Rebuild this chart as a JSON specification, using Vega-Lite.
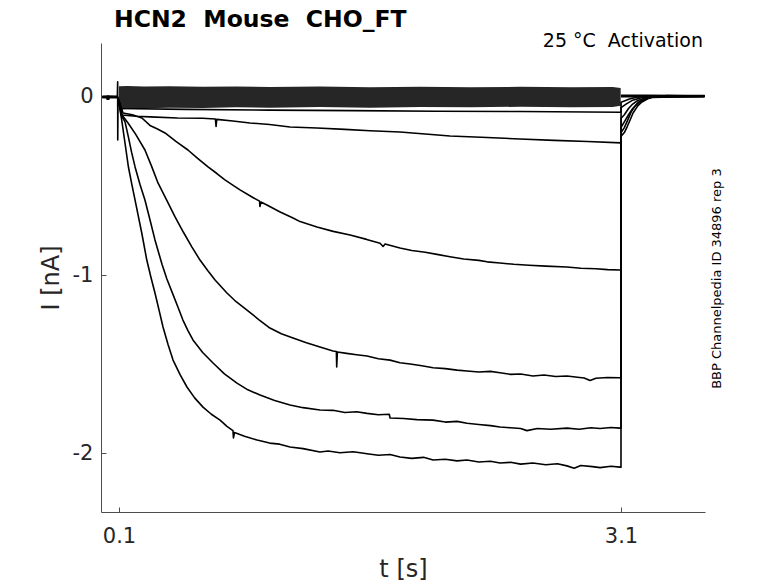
{
  "$schema": "https://vega.github.io/schema/vega-lite/v6.json",
  "description": "HCN2 Mouse CHO_FT activation current traces",
  "width": 604,
  "height": 469,
  "autosize": {"type": "none"},
  "padding": {"left": 101, "top": 43, "right": 73, "bottom": 71},
  "background": "white",
  "datasets": {
    "band": [
      {"t": 0.1, "hi": 0.06, "lo": -0.07},
      {"t": 0.15, "hi": 0.062, "lo": -0.068},
      {"t": 0.25, "hi": 0.058, "lo": -0.064},
      {"t": 0.4, "hi": 0.06, "lo": -0.06},
      {"t": 0.6, "hi": 0.057, "lo": -0.062},
      {"t": 0.8, "hi": 0.059, "lo": -0.058},
      {"t": 1.0, "hi": 0.056, "lo": -0.06},
      {"t": 1.3, "hi": 0.058, "lo": -0.057},
      {"t": 1.6, "hi": 0.055, "lo": -0.06},
      {"t": 1.9, "hi": 0.057, "lo": -0.056},
      {"t": 2.2, "hi": 0.055, "lo": -0.058},
      {"t": 2.5, "hi": 0.057, "lo": -0.055},
      {"t": 2.8, "hi": 0.055, "lo": -0.058},
      {"t": 3.05, "hi": 0.056, "lo": -0.056},
      {"t": 3.098, "hi": 0.05, "lo": -0.05}
    ],
    "flat": [
      {"s": "pre", "t": 0, "v": 0},
      {"s": "pre", "t": 0.03, "v": 0.001},
      {"s": "pre", "t": 0.034, "v": -0.015},
      {"s": "pre", "t": 0.038, "v": 0.001},
      {"s": "pre", "t": 0.09, "v": 0},
      {"s": "post", "t": 3.1, "v": 0.006},
      {"s": "post", "t": 3.25, "v": 0.006},
      {"s": "post", "t": 3.45, "v": 0.004},
      {"s": "post", "t": 3.6, "v": 0.004}
    ],
    "traces": [
      {"s": "cap", "t": 0.09, "v": 0},
      {"s": "cap", "t": 0.092, "v": 0.085},
      {"s": "cap", "t": 0.0925, "v": -0.242},
      {"s": "cap", "t": 0.094, "v": -0.05},
      {"s": "cap", "t": 0.1, "v": -0.03},

      {"s": "1", "t": 0, "v": 0},
      {"s": "1", "t": 0.09, "v": 0},
      {"s": "1", "t": 0.1, "v": -0.02},
      {"s": "1", "t": 0.105, "v": -0.065},
      {"s": "1", "t": 0.5, "v": -0.07},
      {"s": "1", "t": 1.0, "v": -0.074},
      {"s": "1", "t": 1.5, "v": -0.077},
      {"s": "1", "t": 2.0, "v": -0.08},
      {"s": "1", "t": 2.5, "v": -0.082},
      {"s": "1", "t": 3.1, "v": -0.086},
      {"s": "1", "t": 3.1005, "v": -0.03},
      {"s": "1", "t": 3.15, "v": -0.012},
      {"s": "1", "t": 3.2, "v": 0.0},
      {"s": "1", "t": 3.6, "v": 0.004},

      {"s": "2", "t": 0, "v": 0},
      {"s": "2", "t": 0.09, "v": 0},
      {"s": "2", "t": 0.1, "v": -0.02},
      {"s": "2", "t": 0.118, "v": -0.101},
      {"s": "2", "t": 0.2, "v": -0.108},
      {"s": "2", "t": 0.285, "v": -0.112},
      {"s": "2", "t": 0.45, "v": -0.118},
      {"s": "2", "t": 0.6, "v": -0.12},
      {"s": "2", "t": 0.676, "v": -0.124},
      {"s": "2", "t": 0.68, "v": -0.165},
      {"s": "2", "t": 0.684, "v": -0.126},
      {"s": "2", "t": 0.78, "v": -0.135},
      {"s": "2", "t": 0.883, "v": -0.146},
      {"s": "2", "t": 1.0, "v": -0.155},
      {"s": "2", "t": 1.122, "v": -0.169},
      {"s": "2", "t": 1.283, "v": -0.174},
      {"s": "2", "t": 1.45, "v": -0.182},
      {"s": "2", "t": 1.6, "v": -0.19},
      {"s": "2", "t": 1.779, "v": -0.197},
      {"s": "2", "t": 1.93, "v": -0.208},
      {"s": "2", "t": 2.078, "v": -0.219},
      {"s": "2", "t": 2.3, "v": -0.228},
      {"s": "2", "t": 2.496, "v": -0.236},
      {"s": "2", "t": 2.7, "v": -0.244},
      {"s": "2", "t": 2.9, "v": -0.25},
      {"s": "2", "t": 3.1, "v": -0.258},
      {"s": "2", "t": 3.1005, "v": -0.06},
      {"s": "2", "t": 3.13, "v": -0.04},
      {"s": "2", "t": 3.17, "v": -0.018},
      {"s": "2", "t": 3.22, "v": -0.004},
      {"s": "2", "t": 3.6, "v": 0.004},

      {"s": "3", "t": 0, "v": 0},
      {"s": "3", "t": 0.09, "v": 0},
      {"s": "3", "t": 0.1, "v": -0.02},
      {"s": "3", "t": 0.124, "v": -0.09},
      {"s": "3", "t": 0.18, "v": -0.1},
      {"s": "3", "t": 0.237, "v": -0.118},
      {"s": "3", "t": 0.285, "v": -0.16},
      {"s": "3", "t": 0.33, "v": -0.18},
      {"s": "3", "t": 0.375, "v": -0.202},
      {"s": "3", "t": 0.44, "v": -0.25},
      {"s": "3", "t": 0.512, "v": -0.298},
      {"s": "3", "t": 0.57, "v": -0.345},
      {"s": "3", "t": 0.632, "v": -0.393},
      {"s": "3", "t": 0.685, "v": -0.43},
      {"s": "3", "t": 0.733, "v": -0.466},
      {"s": "3", "t": 0.78, "v": -0.495},
      {"s": "3", "t": 0.823, "v": -0.522},
      {"s": "3", "t": 0.9, "v": -0.565},
      {"s": "3", "t": 0.94, "v": -0.585},
      {"s": "3", "t": 0.942, "v": -0.615},
      {"s": "3", "t": 0.948, "v": -0.59},
      {"s": "3", "t": 0.984, "v": -0.607},
      {"s": "3", "t": 1.06, "v": -0.645},
      {"s": "3", "t": 1.14, "v": -0.68},
      {"s": "3", "t": 1.182, "v": -0.7},
      {"s": "3", "t": 1.283, "v": -0.73},
      {"s": "3", "t": 1.38, "v": -0.755},
      {"s": "3", "t": 1.481, "v": -0.775},
      {"s": "3", "t": 1.58, "v": -0.8},
      {"s": "3", "t": 1.66, "v": -0.822},
      {"s": "3", "t": 1.678, "v": -0.84},
      {"s": "3", "t": 1.69, "v": -0.826},
      {"s": "3", "t": 1.779, "v": -0.848},
      {"s": "3", "t": 1.85, "v": -0.862},
      {"s": "3", "t": 1.93, "v": -0.872},
      {"s": "3", "t": 2.0, "v": -0.884},
      {"s": "3", "t": 2.078, "v": -0.897},
      {"s": "3", "t": 2.16, "v": -0.91},
      {"s": "3", "t": 2.25, "v": -0.918},
      {"s": "3", "t": 2.3, "v": -0.926},
      {"s": "3", "t": 2.377, "v": -0.933},
      {"s": "3", "t": 2.46, "v": -0.94},
      {"s": "3", "t": 2.55, "v": -0.945},
      {"s": "3", "t": 2.65, "v": -0.95},
      {"s": "3", "t": 2.777, "v": -0.955},
      {"s": "3", "t": 2.86, "v": -0.962},
      {"s": "3", "t": 2.95, "v": -0.965},
      {"s": "3", "t": 3.02, "v": -0.97},
      {"s": "3", "t": 3.094, "v": -0.972},
      {"s": "3", "t": 3.1, "v": -0.972},
      {"s": "3", "t": 3.1005, "v": -0.12},
      {"s": "3", "t": 3.12, "v": -0.1},
      {"s": "3", "t": 3.145, "v": -0.065},
      {"s": "3", "t": 3.17, "v": -0.04},
      {"s": "3", "t": 3.2, "v": -0.02},
      {"s": "3", "t": 3.25, "v": -0.005},
      {"s": "3", "t": 3.3, "v": 0.002},
      {"s": "3", "t": 3.6, "v": 0.004},

      {"s": "4", "t": 0, "v": 0},
      {"s": "4", "t": 0.09, "v": 0},
      {"s": "4", "t": 0.1, "v": -0.03},
      {"s": "4", "t": 0.118, "v": -0.101},
      {"s": "4", "t": 0.154, "v": -0.146},
      {"s": "4", "t": 0.2, "v": -0.21},
      {"s": "4", "t": 0.255, "v": -0.298},
      {"s": "4", "t": 0.295, "v": -0.39},
      {"s": "4", "t": 0.333, "v": -0.483},
      {"s": "4", "t": 0.385, "v": -0.58},
      {"s": "4", "t": 0.435, "v": -0.674},
      {"s": "4", "t": 0.485, "v": -0.76},
      {"s": "4", "t": 0.536, "v": -0.843},
      {"s": "4", "t": 0.584, "v": -0.916},
      {"s": "4", "t": 0.63, "v": -0.975},
      {"s": "4", "t": 0.674, "v": -1.028},
      {"s": "4", "t": 0.745, "v": -1.101},
      {"s": "4", "t": 0.8, "v": -1.15},
      {"s": "4", "t": 0.865, "v": -1.197},
      {"s": "4", "t": 0.935, "v": -1.25},
      {"s": "4", "t": 1.002, "v": -1.298},
      {"s": "4", "t": 1.07, "v": -1.33},
      {"s": "4", "t": 1.14, "v": -1.354},
      {"s": "4", "t": 1.22, "v": -1.38},
      {"s": "4", "t": 1.301, "v": -1.404},
      {"s": "4", "t": 1.379, "v": -1.427},
      {"s": "4", "t": 1.399, "v": -1.43},
      {"s": "4", "t": 1.401, "v": -1.517},
      {"s": "4", "t": 1.405, "v": -1.432},
      {"s": "4", "t": 1.46, "v": -1.44},
      {"s": "4", "t": 1.52, "v": -1.448},
      {"s": "4", "t": 1.582, "v": -1.455},
      {"s": "4", "t": 1.65, "v": -1.47},
      {"s": "4", "t": 1.72, "v": -1.478},
      {"s": "4", "t": 1.779, "v": -1.493},
      {"s": "4", "t": 1.84, "v": -1.5},
      {"s": "4", "t": 1.91, "v": -1.51},
      {"s": "4", "t": 1.977, "v": -1.521},
      {"s": "4", "t": 2.05, "v": -1.526},
      {"s": "4", "t": 2.12, "v": -1.534},
      {"s": "4", "t": 2.18, "v": -1.539},
      {"s": "4", "t": 2.25, "v": -1.545},
      {"s": "4", "t": 2.32, "v": -1.541},
      {"s": "4", "t": 2.377, "v": -1.549},
      {"s": "4", "t": 2.44, "v": -1.558},
      {"s": "4", "t": 2.5, "v": -1.556},
      {"s": "4", "t": 2.574, "v": -1.567},
      {"s": "4", "t": 2.64, "v": -1.562},
      {"s": "4", "t": 2.71, "v": -1.57},
      {"s": "4", "t": 2.777, "v": -1.567},
      {"s": "4", "t": 2.84, "v": -1.574},
      {"s": "4", "t": 2.88, "v": -1.578},
      {"s": "4", "t": 2.915, "v": -1.592},
      {"s": "4", "t": 2.95, "v": -1.58},
      {"s": "4", "t": 3.02, "v": -1.576},
      {"s": "4", "t": 3.094, "v": -1.577},
      {"s": "4", "t": 3.1, "v": -1.578},
      {"s": "4", "t": 3.1005, "v": -0.17},
      {"s": "4", "t": 3.12, "v": -0.14},
      {"s": "4", "t": 3.145, "v": -0.1},
      {"s": "4", "t": 3.17, "v": -0.065},
      {"s": "4", "t": 3.2, "v": -0.035},
      {"s": "4", "t": 3.24, "v": -0.014},
      {"s": "4", "t": 3.28, "v": -0.002},
      {"s": "4", "t": 3.4, "v": 0.006},
      {"s": "4", "t": 3.6, "v": 0.004},

      {"s": "5", "t": 0, "v": 0},
      {"s": "5", "t": 0.09, "v": 0},
      {"s": "5", "t": 0.1, "v": -0.03},
      {"s": "5", "t": 0.112, "v": -0.101},
      {"s": "5", "t": 0.136, "v": -0.14},
      {"s": "5", "t": 0.155, "v": -0.22},
      {"s": "5", "t": 0.175, "v": -0.31},
      {"s": "5", "t": 0.196, "v": -0.393},
      {"s": "5", "t": 0.225, "v": -0.49},
      {"s": "5", "t": 0.255, "v": -0.579},
      {"s": "5", "t": 0.285, "v": -0.69},
      {"s": "5", "t": 0.315, "v": -0.803},
      {"s": "5", "t": 0.357, "v": -0.94},
      {"s": "5", "t": 0.385, "v": -1.02},
      {"s": "5", "t": 0.423, "v": -1.11},
      {"s": "5", "t": 0.452, "v": -1.18},
      {"s": "5", "t": 0.482, "v": -1.253},
      {"s": "5", "t": 0.512, "v": -1.312},
      {"s": "5", "t": 0.542, "v": -1.365},
      {"s": "5", "t": 0.6, "v": -1.435},
      {"s": "5", "t": 0.662, "v": -1.494},
      {"s": "5", "t": 0.73, "v": -1.555},
      {"s": "5", "t": 0.805, "v": -1.607},
      {"s": "5", "t": 0.87, "v": -1.645},
      {"s": "5", "t": 0.943, "v": -1.674},
      {"s": "5", "t": 1.03, "v": -1.705},
      {"s": "5", "t": 1.122, "v": -1.73},
      {"s": "5", "t": 1.2, "v": -1.745},
      {"s": "5", "t": 1.301, "v": -1.758},
      {"s": "5", "t": 1.379, "v": -1.76},
      {"s": "5", "t": 1.45, "v": -1.772},
      {"s": "5", "t": 1.52, "v": -1.768},
      {"s": "5", "t": 1.582, "v": -1.777},
      {"s": "5", "t": 1.65, "v": -1.785},
      {"s": "5", "t": 1.715, "v": -1.782},
      {"s": "5", "t": 1.72, "v": -1.803},
      {"s": "5", "t": 1.8, "v": -1.806},
      {"s": "5", "t": 1.88, "v": -1.812},
      {"s": "5", "t": 1.977, "v": -1.815},
      {"s": "5", "t": 2.05, "v": -1.826},
      {"s": "5", "t": 2.12, "v": -1.822},
      {"s": "5", "t": 2.18, "v": -1.833},
      {"s": "5", "t": 2.25, "v": -1.84},
      {"s": "5", "t": 2.32, "v": -1.846},
      {"s": "5", "t": 2.377, "v": -1.854},
      {"s": "5", "t": 2.44, "v": -1.858},
      {"s": "5", "t": 2.5, "v": -1.862},
      {"s": "5", "t": 2.538, "v": -1.874},
      {"s": "5", "t": 2.6, "v": -1.862},
      {"s": "5", "t": 2.68, "v": -1.866},
      {"s": "5", "t": 2.777, "v": -1.86},
      {"s": "5", "t": 2.85, "v": -1.866},
      {"s": "5", "t": 2.92, "v": -1.858},
      {"s": "5", "t": 2.975, "v": -1.862},
      {"s": "5", "t": 3.04, "v": -1.856},
      {"s": "5", "t": 3.094, "v": -1.86},
      {"s": "5", "t": 3.1, "v": -1.86},
      {"s": "5", "t": 3.1005, "v": -0.2},
      {"s": "5", "t": 3.12, "v": -0.172},
      {"s": "5", "t": 3.14, "v": -0.13},
      {"s": "5", "t": 3.16, "v": -0.085},
      {"s": "5", "t": 3.185, "v": -0.05},
      {"s": "5", "t": 3.21, "v": -0.025},
      {"s": "5", "t": 3.25, "v": -0.008},
      {"s": "5", "t": 3.29, "v": 0.0},
      {"s": "5", "t": 3.4, "v": 0.006},
      {"s": "5", "t": 3.6, "v": 0.004},

      {"s": "6", "t": 0, "v": 0},
      {"s": "6", "t": 0.09, "v": 0},
      {"s": "6", "t": 0.1, "v": -0.03},
      {"s": "6", "t": 0.108, "v": -0.08},
      {"s": "6", "t": 0.116, "v": -0.129},
      {"s": "6", "t": 0.136, "v": -0.26},
      {"s": "6", "t": 0.156, "v": -0.392},
      {"s": "6", "t": 0.176, "v": -0.488},
      {"s": "6", "t": 0.196, "v": -0.579},
      {"s": "6", "t": 0.216, "v": -0.672},
      {"s": "6", "t": 0.236, "v": -0.764},
      {"s": "6", "t": 0.266, "v": -0.916},
      {"s": "6", "t": 0.29, "v": -1.01},
      {"s": "6", "t": 0.315, "v": -1.101},
      {"s": "6", "t": 0.34, "v": -1.2},
      {"s": "6", "t": 0.363, "v": -1.292},
      {"s": "6", "t": 0.393, "v": -1.39},
      {"s": "6", "t": 0.423, "v": -1.478},
      {"s": "6", "t": 0.465, "v": -1.56},
      {"s": "6", "t": 0.506, "v": -1.629},
      {"s": "6", "t": 0.552, "v": -1.69},
      {"s": "6", "t": 0.602, "v": -1.742},
      {"s": "6", "t": 0.652, "v": -1.782},
      {"s": "6", "t": 0.704, "v": -1.815},
      {"s": "6", "t": 0.745, "v": -1.85},
      {"s": "6", "t": 0.781, "v": -1.874},
      {"s": "6", "t": 0.784, "v": -1.915},
      {"s": "6", "t": 0.79, "v": -1.885},
      {"s": "6", "t": 0.85, "v": -1.905},
      {"s": "6", "t": 0.925, "v": -1.927},
      {"s": "6", "t": 1.0, "v": -1.944},
      {"s": "6", "t": 1.06, "v": -1.95},
      {"s": "6", "t": 1.122, "v": -1.966},
      {"s": "6", "t": 1.2, "v": -1.975},
      {"s": "6", "t": 1.301, "v": -1.994},
      {"s": "6", "t": 1.35, "v": -1.988},
      {"s": "6", "t": 1.42, "v": -1.998},
      {"s": "6", "t": 1.5, "v": -1.993},
      {"s": "6", "t": 1.582, "v": -2.004},
      {"s": "6", "t": 1.65, "v": -2.012},
      {"s": "6", "t": 1.72, "v": -2.008},
      {"s": "6", "t": 1.779, "v": -2.022},
      {"s": "6", "t": 1.85, "v": -2.03},
      {"s": "6", "t": 1.92, "v": -2.024},
      {"s": "6", "t": 1.977, "v": -2.039},
      {"s": "6", "t": 2.05, "v": -2.035},
      {"s": "6", "t": 2.12, "v": -2.044},
      {"s": "6", "t": 2.18, "v": -2.039},
      {"s": "6", "t": 2.25, "v": -2.05},
      {"s": "6", "t": 2.32, "v": -2.046},
      {"s": "6", "t": 2.377, "v": -2.056},
      {"s": "6", "t": 2.44, "v": -2.052},
      {"s": "6", "t": 2.5, "v": -2.062},
      {"s": "6", "t": 2.574, "v": -2.056},
      {"s": "6", "t": 2.65, "v": -2.066},
      {"s": "6", "t": 2.72, "v": -2.06},
      {"s": "6", "t": 2.777, "v": -2.072},
      {"s": "6", "t": 2.82, "v": -2.085},
      {"s": "6", "t": 2.86, "v": -2.07},
      {"s": "6", "t": 2.93, "v": -2.076},
      {"s": "6", "t": 2.975, "v": -2.082},
      {"s": "6", "t": 3.04, "v": -2.074},
      {"s": "6", "t": 3.094, "v": -2.079},
      {"s": "6", "t": 3.1, "v": -2.08},
      {"s": "6", "t": 3.1005, "v": -0.22},
      {"s": "6", "t": 3.12, "v": -0.2},
      {"s": "6", "t": 3.136, "v": -0.169},
      {"s": "6", "t": 3.155, "v": -0.128},
      {"s": "6", "t": 3.172, "v": -0.09},
      {"s": "6", "t": 3.2, "v": -0.05},
      {"s": "6", "t": 3.225, "v": -0.028},
      {"s": "6", "t": 3.26, "v": -0.01},
      {"s": "6", "t": 3.291, "v": 0.0},
      {"s": "6", "t": 3.375, "v": 0.008},
      {"s": "6", "t": 3.5, "v": 0.006},
      {"s": "6", "t": 3.6, "v": 0.004}
    ],
    "notes": [
      {"kind": "title", "label": "HCN2\u00a0 Mouse\u00a0 CHO_FT"},
      {"kind": "cond", "label": "25 °C\u00a0 Activation"},
      {"kind": "id", "label": "BBP Channelpedia ID 34896 rep 3"}
    ]
  },
  "layer": [
    {
      "data": {"name": "band"},
      "mark": {"type": "area", "color": "#262626", "opacity": 1},
      "encoding": {
        "x": {
          "field": "t",
          "type": "quantitative",
          "scale": {"domain": [-0.0076, 3.602], "nice": false, "zero": false},
          "axis": {
            "values": [0.1, 3.1],
            "format": ".1f",
            "labelFontSize": 21,
            "labelBaseline": "alphabetic",
            "labelPadding": 35,
            "labelFlush": false,
            "title": "t [s]",
            "titleFontSize": 24,
            "titleY": 64,
            "titleBaseline": "alphabetic"
          }
        },
        "y": {
          "field": "hi",
          "type": "quantitative",
          "scale": {"domain": [-2.331, 0.303], "nice": false, "zero": false},
          "axis": {
            "values": [-2, -1, 0],
            "labelExpr": "datum.value < 0 ? '-' + format(-datum.value, 'd') : format(datum.value, 'd')",
            "labelFontSize": 21,
            "labelPadding": 13,
            "title": "I [nA]",
            "titleFontSize": 24,
            "titleAngle": 270,
            "titleX": -42.5,
            "titleBaseline": "alphabetic"
          }
        },
        "y2": {"field": "lo"}
      }
    },
    {
      "data": {"name": "traces"},
      "mark": {"type": "line", "color": "#000000", "strokeWidth": 1.6, "strokeJoin": "round"},
      "encoding": {
        "x": {"field": "t", "type": "quantitative"},
        "y": {"field": "v", "type": "quantitative"},
        "detail": {"field": "s", "type": "nominal"}
      }
    },
    {
      "data": {"name": "flat"},
      "mark": {"type": "line", "color": "#000000", "strokeWidth": 3},
      "encoding": {
        "x": {"field": "t", "type": "quantitative"},
        "y": {"field": "v", "type": "quantitative"},
        "detail": {"field": "s", "type": "nominal"}
      }
    },
    {
      "data": {"name": "notes"},
      "transform": [{"filter": "datum.kind == 'title'"}],
      "mark": {
        "type": "text",
        "align": "left",
        "baseline": "alphabetic",
        "font": "DejaVu Sans",
        "fontSize": 23.5,
        "fontWeight": "bold",
        "color": "#000000"
      },
      "encoding": {
        "x": {"datum": 0.07},
        "y": {"datum": 0.393},
        "text": {"field": "label"}
      }
    },
    {
      "data": {"name": "notes"},
      "transform": [{"filter": "datum.kind == 'cond'"}],
      "mark": {
        "type": "text",
        "align": "right",
        "baseline": "alphabetic",
        "font": "DejaVu Sans",
        "fontSize": 19,
        "color": "#000000"
      },
      "encoding": {
        "x": {"datum": 3.59},
        "y": {"datum": 0.28},
        "text": {"field": "label"}
      }
    },
    {
      "data": {"name": "notes"},
      "transform": [{"filter": "datum.kind == 'id'"}],
      "mark": {
        "type": "text",
        "align": "center",
        "baseline": "middle",
        "angle": 270,
        "font": "DejaVu Sans",
        "fontSize": 13,
        "color": "#000000"
      },
      "encoding": {
        "x": {"datum": 3.675},
        "y": {"datum": -1.02},
        "text": {"field": "label"}
      }
    }
  ],
  "config": {
    "view": {"stroke": null},
    "axis": {
      "grid": false,
      "domainColor": "#4d4d4d",
      "tickColor": "#4d4d4d",
      "tickSize": -5,
      "labelColor": "#262626",
      "titleColor": "#262626",
      "labelFont": "DejaVu Sans",
      "titleFont": "DejaVu Sans",
      "titleFontWeight": "normal"
    }
  }
}
